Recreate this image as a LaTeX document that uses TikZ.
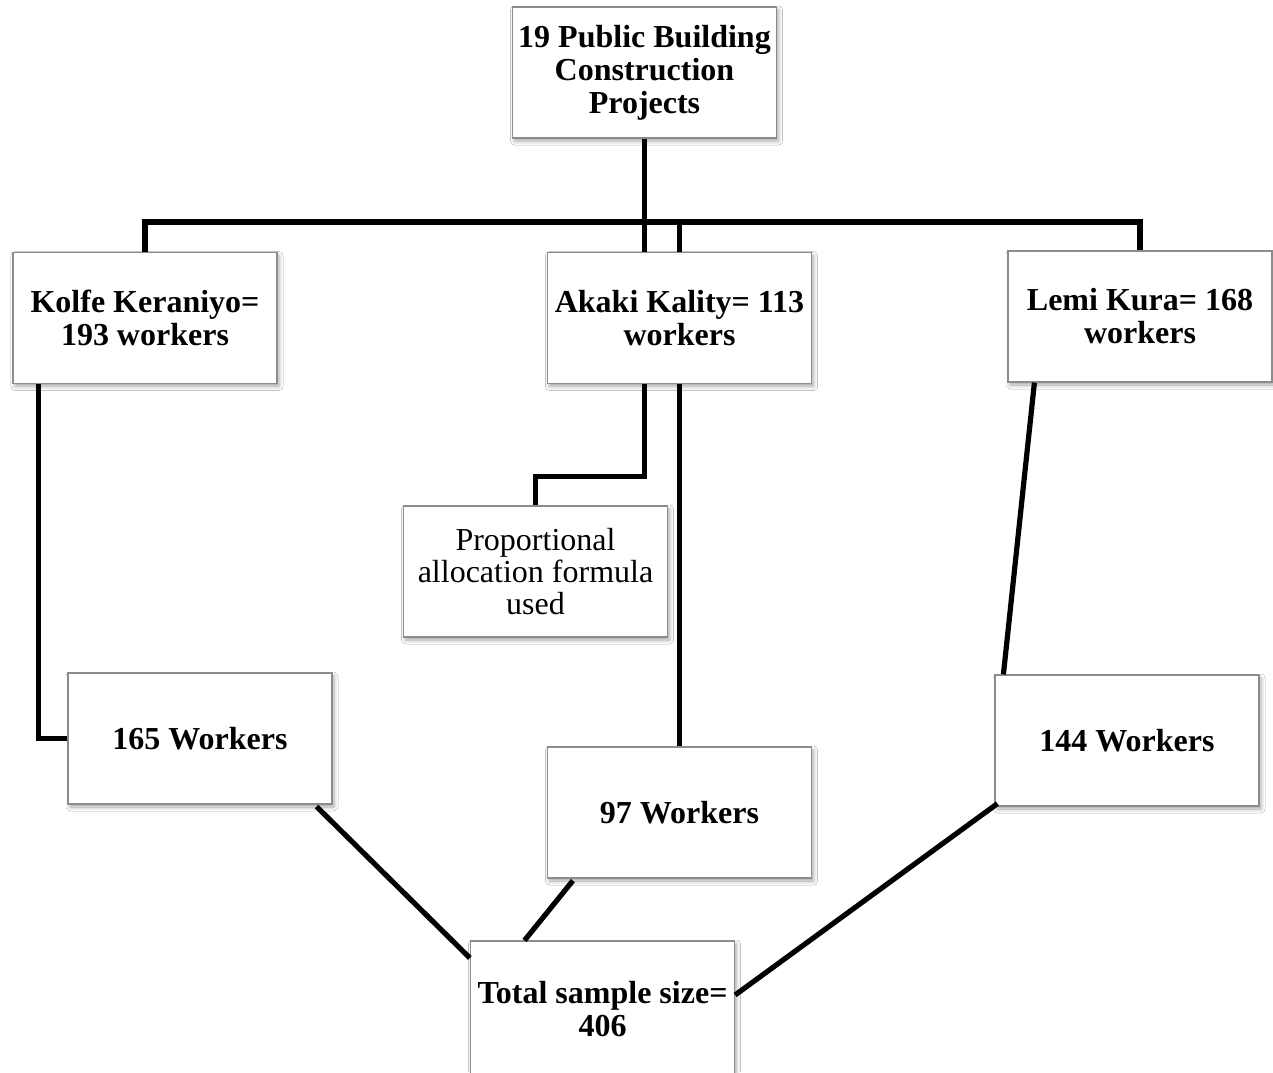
\documentclass[tikz,border=0pt]{standalone}
\usepackage{fontspec}
\setmainfont{Liberation Serif}
\usetikzlibrary{shadows.blur,calc}
\begin{document}
\begin{tikzpicture}[x=0.5pt,y=-0.5pt,
  box/.style={draw=black!45, line width=0.6pt, fill=white, minimum width=132pt, minimum height=65.5pt, inner sep=2pt, align=center, font=\fontsize{16}{16.5}\selectfont\bfseries, blur shadow={shadow xshift=1pt,shadow yshift=-1.5pt,shadow blur radius=2pt,shadow opacity=35}},
  plainbox/.style={box, font=\fontsize{16}{16}\selectfont},
  conn/.style={line width=2.6pt}]
\useasboundingbox (0,0) rectangle (1273,1072);
\fill[white] (0,0) rectangle (1273,1072);

\node[box] (top) at (644.5,72.5) {19 Public Building\\Construction\\Projects};
\node[box] (kolfe) at (145,318) {Kolfe Keraniyo=\\193 workers};
\node[box] (akaki) at (679.5,318) {Akaki Kality= 113\\workers};
\node[box] (lemi) at (1140,316.5) {Lemi Kura= 168\\workers};
\node[plainbox] (prop) at (535.5,571.5) {Proportional\\allocation formula\\used};
\node[box] (w165) at (200,738.5) {165 Workers};
\node[box] (w97) at (679.5,812.5) {97 Workers};
\node[box] (w144) at (1127,740.5) {144 Workers};
\node[box, minimum height=68pt] (total) at (602.5,1009) {Total sample size=\\406};

\coordinate (bar) at (0,222);
\draw[conn] (top.south) -- (top.south |- akaki.north);
\draw[conn] (kolfe.north) -- (kolfe.north |- bar) -- (lemi.north |- bar) -- (lemi.north);
\draw[conn] (akaki.north) -- (akaki.north |- bar);
\draw[conn] ($(kolfe.south west)+(26,0)$) |- (w165.west);
\draw[conn] (akaki.south -| top.south) -- ++(0,92) -| (prop.north);
\draw[conn] (akaki.south) -- (w97.north);
\draw[conn] ($(lemi.south west)+(27,0)$) -- ($(w144.north west)+(9,0)$);
\draw[conn] ($(w165.south east)+(-16,2)$) -- ($(total.west)+(0,-51)$);
\draw[conn] ($(w97.south west)+(26,2)$) -- ($(total.north)+(-78,0)$);
\draw[conn] ($(w144.south west)+(3,-3)$) -- ($(total.east)+(0,-14)$);
\end{tikzpicture}
\end{document}
